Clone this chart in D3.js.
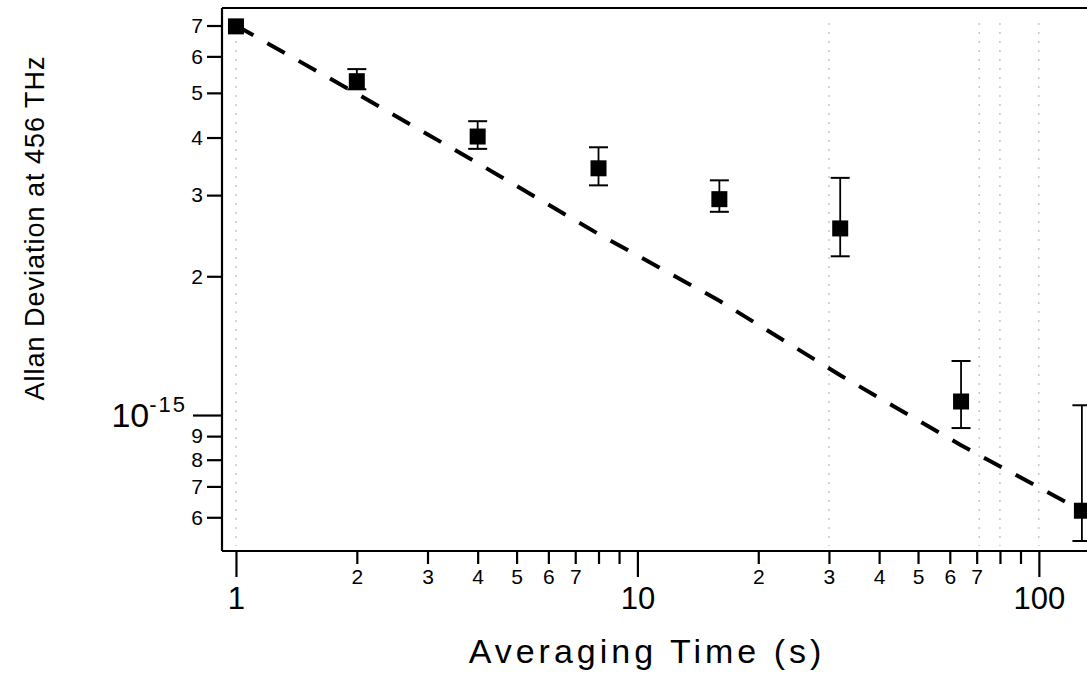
<!DOCTYPE html>
<html>
<head>
<meta charset="utf-8">
<script src="https://cdn.jsdelivr.net/npm/d3@7"></script>
<style>
  html, body { margin: 0; padding: 0; background: #fff; }
  svg { display: block; }
  text { font-family: "Liberation Sans", Arial, Helvetica, sans-serif; fill: #000; }
</style>
</head>
<body>
<svg id="chart" width="1087" height="674"></svg>
<script>
// ---- data (Allan deviation in units of 1e-15) ----
const taus      = [1, 2, 4, 8, 16, 32, 64, 128];
const adev      = [6.97, 5.30, 4.02, 3.43, 2.94, 2.54, 1.07, 0.62];
const errLow    = [6.97, 5.09, 3.78, 3.15, 2.76, 2.21, 0.937, 0.533];
const errHigh   = [6.97, 5.63, 4.34, 3.81, 3.23, 3.27, 1.31, 1.05];
const fitTau    = [1, 2, 4, 8, 16, 32, 64, 128];
const fitAdev   = [7.0, 4.98, 3.52, 2.47, 1.77, 1.22, 0.86, 0.62];
const xMajorTicks = [1, 10, 100];
const xMajorLabels = ["1", "10", "100"];
const xMinorTicks = [2, 3, 4, 5, 6, 7, 8, 9, 20, 30, 40, 50, 60, 70, 80, 90];
const xMinorLabeled = [2, 3, 4, 5, 6, 7, 20, 30, 40, 50, 60, 70];
const yMinorTicks = [0.6, 0.7, 0.8, 0.9, 2, 3, 4, 5, 6, 7];
const yMinorLabels = ["6", "7", "8", "9", "2", "3", "4", "5", "6", "7"];
const ghostGridTau = [1, 30, 71, 80, 100];
const xTitle = "Averaging Time (s)";
const yTitle = "Allan Deviation at 456 THz";

// ---- layout ----
const svg = d3.select("#chart");
const plotLeft = 222, plotBottom = 551, plotTop = 8, plotRight = 1100;

const x = d3.scaleLog().domain([0.923, 142]).range([plotLeft, plotRight]);
const y = d3.scaleLog().domain([0.507, 7.64]).range([plotBottom, plotTop]);

// ghost dotted grid (scan artefacts)
svg.append("g").selectAll("line").data(ghostGridTau).join("line")
  .attr("x1", d => x(d)).attr("x2", d => x(d))
  .attr("y1", plotTop + 15).attr("y2", plotBottom - 5)
  .attr("stroke", "#aaa").attr("stroke-width", 1)
  .attr("stroke-dasharray", "2,7");

// top frame
svg.append("line").attr("x1", plotLeft).attr("x2", 1087).attr("y1", plotTop).attr("y2", plotTop)
  .attr("stroke", "#000").attr("stroke-width", 2);

// ---- x axis ----
const xMajor = svg.append("g").attr("transform", `translate(0,${plotBottom})`)
  .call(d3.axisBottom(x).tickValues(xMajorTicks).tickSize(26).tickFormat((d, i) => xMajorLabels[i]));
xMajor.select(".domain").attr("d", `M${plotLeft},0H1087`).attr("stroke-width", 2.2);
xMajor.selectAll(".tick line").attr("stroke-width", 2.2);
xMajor.selectAll(".tick text").attr("y", 58).attr("dy", 0)
  .style("font-size", "31px").style("font-family", "Liberation Sans, Arial, sans-serif");

const xMinor = svg.append("g").attr("transform", `translate(0,${plotBottom})`)
  .call(d3.axisBottom(x).tickValues(xMinorTicks).tickSize(13)
    .tickFormat(d => xMinorLabeled.includes(d) ? String(d >= 10 ? d / 10 : d) : ""));
xMinor.select(".domain").remove();
xMinor.selectAll(".tick line").attr("stroke-width", 2.2);
xMinor.selectAll(".tick text").attr("y", 33).attr("dy", 0)
  .style("font-size", "21px").style("font-family", "Liberation Sans, Arial, sans-serif");

// ---- y axis ----
const yMajor = svg.append("g").attr("transform", `translate(${plotLeft},0)`)
  .call(d3.axisLeft(y).tickValues([1]).tickSize(29).tickFormat(""));
yMajor.select(".domain").attr("d", `M0,${plotTop}V${plotBottom}`).attr("stroke-width", 2.2);
yMajor.selectAll(".tick line").attr("stroke-width", 2.2);
const lab = svg.append("text").attr("x", 187).attr("y", y(1) + 12).attr("text-anchor", "end")
  .style("font-size", "34px");
lab.append("tspan").text("10");
lab.append("tspan").attr("dy", -15).style("font-size", "22px").style("letter-spacing", "2px").text("-15");

const yMinor = svg.append("g").attr("transform", `translate(${plotLeft},0)`)
  .call(d3.axisLeft(y).tickValues(yMinorTicks).tickSize(15).tickPadding(4)
    .tickFormat((d, i) => yMinorLabels[i]));
yMinor.select(".domain").remove();
yMinor.selectAll(".tick line").attr("stroke-width", 2.2);
yMinor.selectAll(".tick text").style("font-size", "21px")
  .style("font-family", "Liberation Sans, Arial, sans-serif");

// ---- dashed fit line ----
const line = d3.line().x(d => x(d[0])).y(d => y(d[1]));
svg.append("path").datum(fitTau.map((t, i) => [t, fitAdev[i]]))
  .attr("d", line).attr("fill", "none").attr("stroke", "#000")
  .attr("stroke-width", 4).attr("stroke-dasharray", "20,16");

// ---- error bars ----
const pts = taus.map((t, i) => ({ t, v: adev[i], lo: errLow[i], hi: errHigh[i] }));
const eb = svg.append("g").selectAll("g").data(pts.filter(d => d.hi > d.lo)).join("g");
eb.append("line").attr("x1", d => x(d.t)).attr("x2", d => x(d.t))
  .attr("y1", d => y(d.lo)).attr("y2", d => y(d.hi))
  .attr("stroke", "#000").attr("stroke-width", 1.8);
eb.append("line").attr("x1", d => x(d.t) - 9.5).attr("x2", d => x(d.t) + 9.5)
  .attr("y1", d => y(d.hi)).attr("y2", d => y(d.hi))
  .attr("stroke", "#000").attr("stroke-width", 2);
eb.append("line").attr("x1", d => x(d.t) - 9.5).attr("x2", d => x(d.t) + 9.5)
  .attr("y1", d => y(d.lo)).attr("y2", d => y(d.lo))
  .attr("stroke", "#000").attr("stroke-width", 2);

// ---- square markers ----
svg.append("g").selectAll("rect").data(pts).join("rect")
  .attr("x", d => x(d.t) - 8).attr("y", d => y(d.v) - 8)
  .attr("width", 16).attr("height", 16).attr("fill", "#000");

// ---- titles ----
svg.append("text").attr("x", 647).attr("y", 663).attr("text-anchor", "middle")
  .style("font-size", "34px").style("letter-spacing", "4px").text(xTitle);
svg.append("text").attr("transform", "translate(44,228) rotate(-90)")
  .attr("text-anchor", "middle").style("font-size", "27px").style("letter-spacing", "1px")
  .text(yTitle);
</script>
</body>
</html>
